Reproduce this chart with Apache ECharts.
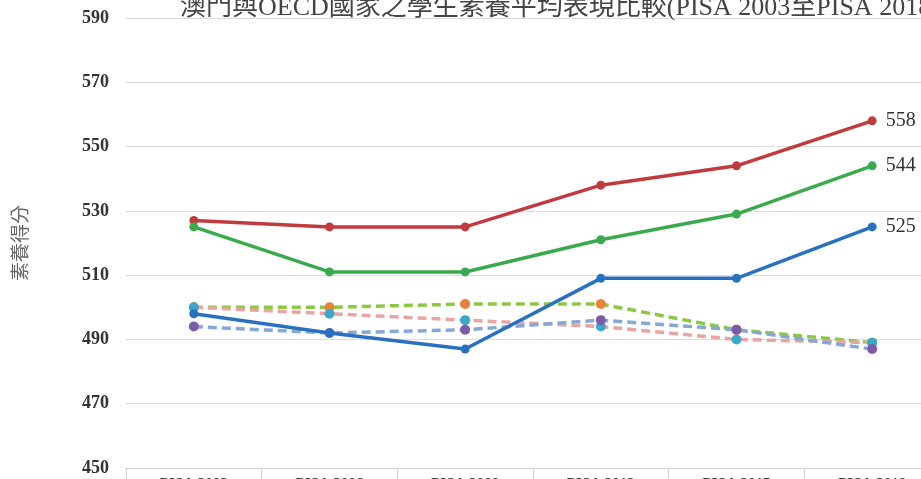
<!DOCTYPE html>
<html>
<head>
<meta charset="utf-8">
<script src="https://cdn.jsdelivr.net/npm/echarts@6/dist/echarts.min.js"></script>
<style>
  html, body { margin: 0; padding: 0; background: #fff; }
  #main { width: 921px; height: 479px; }
</style>
</head>
<body>
<div id="main"></div>
<script>
// 資料
var years = ['PISA 2003', 'PISA 2006', 'PISA 2009', 'PISA 2012', 'PISA 2015', 'PISA 2018'];
var macaoMath = [527, 525, 525, 538, 544, 558];
var macaoScience = [525, 511, 511, 521, 529, 544];
var macaoReading = [498, 492, 487, 509, 509, 525];
var oecdScience = [500, 500, 501, 501, 493, 489];
var oecdMath = [500, 498, 496, 494, 490, 489];
var oecdReading = [494, 492, 493, 496, 493, 487];

var serif = '"Liberation Serif", "Noto Sans CJK TC", serif';

// 只在最後一點顯示數值
function endLabel() {
  return {
    show: true,
    position: 'right',
    distance: 9,
    color: '#333',
    fontFamily: serif,
    fontSize: 20,
    formatter: function (p) {
      return p.dataIndex === years.length - 1 ? p.value : '';
    }
  };
}

function solid(name, data, color) {
  return {
    name: name,
    type: 'line',
    data: data,
    symbol: 'circle',
    symbolSize: 9,
    lineStyle: { width: 3.5, color: color },
    itemStyle: { color: color },
    label: endLabel(),
    z: 3
  };
}

function dashed(name, data, lineColor, dotColor) {
  return {
    name: name,
    type: 'line',
    data: data,
    symbol: 'circle',
    symbolSize: 10,
    lineStyle: { width: 3.5, color: lineColor, type: [9, 5] },
    itemStyle: { color: dotColor },
    z: 2
  };
}

var chart = echarts.init(document.getElementById('main'));
var option = {
  animation: false,
  title: {
    text: '澳門與OECD國家之學生素養平均表現比較(PISA 2003至PISA 2018)',
    left: 175,
    top: -10,
    textStyle: { fontFamily: serif, fontSize: 26, fontWeight: 'normal', color: '#444' }
  },
  grid: { left: 126, top: 18, width: 814, height: 450, outerBoundsMode: 'none' },
  xAxis: {
    type: 'category',
    data: years,
    boundaryGap: true,
    axisLine: { lineStyle: { color: '#d0d0d0', width: 1 } },
    axisTick: { show: true, length: 20, lineStyle: { color: '#d0d0d0' } },
    axisLabel: { margin: 9, color: '#333', fontFamily: serif, fontSize: 15, fontWeight: 'bold' }
  },
  yAxis: {
    type: 'value',
    min: 450,
    max: 590,
    interval: 20,
    name: '素養得分',
    nameLocation: 'middle',
    nameRotate: 90,
    nameGap: 94,
    nameTextStyle: { color: '#666', fontSize: 19, fontFamily: serif },
    axisLine: { show: false },
    axisTick: { show: false },
    axisLabel: { margin: 17, color: '#333', fontFamily: serif, fontSize: 18, fontWeight: 'bold' },
    splitLine: { lineStyle: { color: '#dcdcdc', width: 1 } }
  },
  series: [
    dashed('OECD科學素養', oecdScience, '#8dc843', '#e8823a'),
    dashed('OECD數學素養', oecdMath, '#eaa5a3', '#3aa9c7'),
    dashed('OECD閱讀素養', oecdReading, '#86a8d8', '#7c5aa6'),
    solid('澳門數學素養', macaoMath, '#c13a3e'),
    solid('澳門科學素養', macaoScience, '#3aaa4c'),
    solid('澳門閱讀素養', macaoReading, '#2a70c0')
  ]
};
chart.setOption(option);
</script>
</body>
</html>
